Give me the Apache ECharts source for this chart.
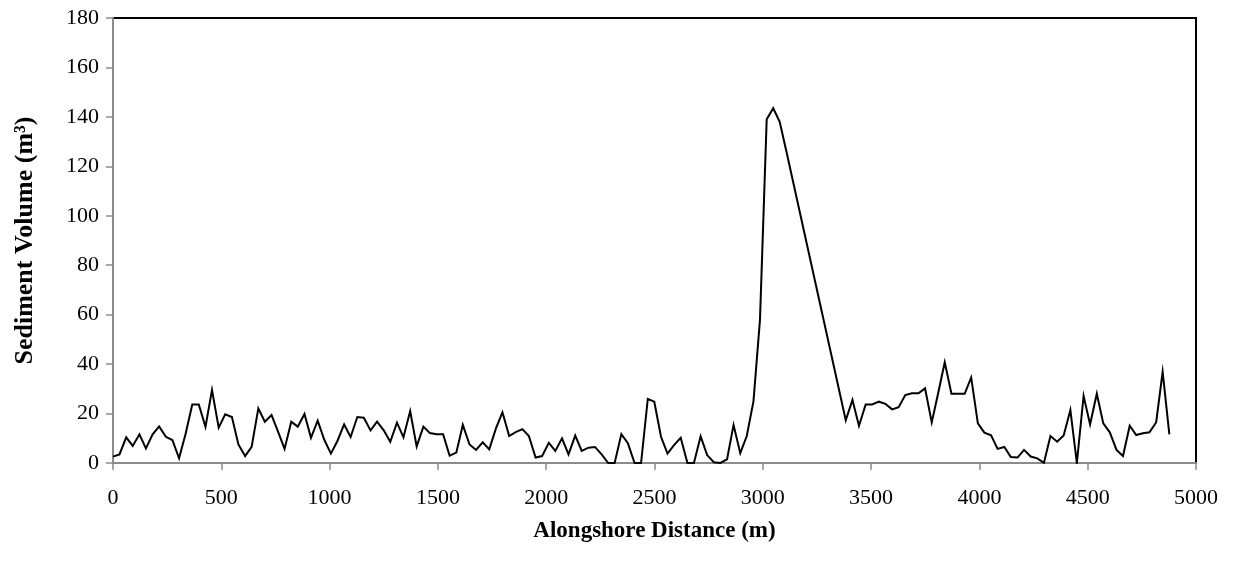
<!DOCTYPE html>
<html>
<head>
<meta charset="utf-8">
<title>Sediment Volume</title>
<script src="https://cdn.jsdelivr.net/npm/echarts@6/dist/echarts.min.js"></script>
<style>
    html, body { margin: 0; padding: 0; background: #fff; }
    #sedchart { width: 1236px; height: 561px; }
</style>
</head>
<body>
<div id="sedchart"></div>
<script>
// alongshore distance of each transect (m)
var distList = [
    0, 30, 61, 91, 122, 152, 183, 213, 244, 274, 305, 335, 366, 396, 427, 457, 488, 518, 549, 579,
    610, 640, 671, 701, 732, 762, 792, 823, 853, 884, 914, 945, 975, 1006, 1036, 1067, 1097, 1128, 1158, 1189,
    1219, 1250, 1280, 1311, 1341, 1372, 1402, 1433, 1463, 1494, 1524, 1554, 1585, 1615, 1646, 1676, 1707, 1737, 1768, 1798,
    1829, 1859, 1890, 1920, 1951, 1981, 2012, 2042, 2073, 2103, 2134, 2164, 2195, 2225, 2256, 2286, 2316, 2347, 2377, 2408,
    2438, 2469, 2499, 2530, 2560, 2591, 2621, 2652, 2682, 2713, 2743, 2774, 2804, 2835, 2865, 2896, 2926, 2957, 2987, 3018,
    3048, 3078, 3109,
    3383, 3414, 3444, 3475, 3505, 3536, 3566, 3597, 3627, 3658, 3688, 3719, 3749, 3780, 3810, 3840, 3871, 3901, 3932,
    3962, 3993, 4023, 4054, 4084, 4115, 4145, 4176, 4206, 4237, 4267, 4298, 4328, 4359, 4389, 4420, 4450, 4481, 4511, 4542,
    4572, 4602, 4633, 4663, 4694, 4724, 4755, 4785, 4816, 4846, 4877
];
// sediment volume (m3)
var volumeList = [
    2.6, 3.5, 10.4, 6.9, 11.6, 5.9, 11.6, 14.8, 10.6, 9.3, 1.9, 11.7, 23.7, 23.7, 14.6, 29.5, 14.3, 19.7, 18.6, 7.5,
    2.8, 6.5, 22.1, 16.7, 19.4, 12.7, 5.7, 16.7, 14.7, 19.8, 10.2, 17.1, 9.5, 3.8, 8.9, 15.6, 10.5, 18.6, 18.3, 13.2,
    16.7, 13.2, 8.6, 16.3, 10.4, 21.0, 6.7, 14.7, 12.1, 11.6, 11.6, 3.0, 4.2, 15.4, 7.5, 5.3, 8.4, 5.5, 14.0, 20.5,
    10.9, 12.5, 13.7, 10.9, 2.2, 2.8, 8.2, 4.9, 10.0, 3.5, 11.1, 4.9, 6.2, 6.5, 3.5, 0, 0, 11.7, 8.0, 0,
    0, 25.9, 24.8, 10.6, 3.8, 7.3, 10.2, 0, 0, 10.8, 3.2, 0.3, 0, 1.5, 15.4, 4.0, 10.9, 25.0, 58.0, 139.0,
    143.5, 138.0, 126.0,
    17.3, 25.5, 15.0, 23.7, 23.7, 24.8, 23.9, 21.7, 22.6, 27.5, 28.2, 28.2, 30.2, 16.4, 28.4, 40.7, 28.0, 28.0, 28.0,
    34.6, 16.0, 12.3, 11.2, 5.7, 6.5, 2.4, 2.2, 5.3, 2.6, 1.9, 0.1, 10.9, 8.6, 11.1, 21.4, 0, 27.1, 15.6, 28.0,
    16.0, 12.4, 5.3, 2.8, 15.1, 11.3, 12.0, 12.4, 16.4, 36.9, 11.6
];

var fontName = '"Liberation Serif", "Times New Roman", serif';
var axisGray = '#8c8c8c';

var seriesData = [];
for (var i = 0; i < distList.length; i++) {
    seriesData.push([distList[i], volumeList[i]]);
}

// plain numbers, no thousands separator
function plainLabel(value) {
    return String(value);
}

var myChart = echarts.init(document.getElementById('sedchart'));
var option = {
    animation: false,
    backgroundColor: '#fff',
    grid: {
        show: true,
        left: 113,
        right: 40,
        top: 18,
        bottom: 98,
        borderColor: '#000',
        borderWidth: 2,
        backgroundColor: 'transparent'
    },
    xAxis: {
        type: 'value',
        min: 0,
        max: 5000,
        interval: 500,
        name: 'Alongshore Distance (m)',
        nameLocation: 'middle',
        nameGap: 57,
        nameTextStyle: {
            color: '#000',
            fontFamily: fontName,
            fontSize: 23,
            fontWeight: 'bold'
        },
        axisLine: { show: true, lineStyle: { color: axisGray, width: 2 } },
        axisTick: { show: true, inside: false, length: 7, lineStyle: { color: axisGray, width: 1.5 } },
        axisLabel: { color: '#000', fontFamily: fontName, fontSize: 22, margin: 24, formatter: plainLabel },
        splitLine: { show: false }
    },
    yAxis: {
        type: 'value',
        min: 0,
        max: 180,
        interval: 20,
        name: 'Sediment Volume (m³)',
        nameLocation: 'middle',
        nameGap: 75,
        nameRotate: 90,
        nameTextStyle: {
            color: '#000',
            fontFamily: fontName,
            fontSize: 26,
            fontWeight: 'bold'
        },
        axisLine: { show: true, lineStyle: { color: axisGray, width: 2 } },
        axisTick: { show: true, inside: false, length: 7, lineStyle: { color: axisGray, width: 1.5 } },
        axisLabel: { color: '#000', fontFamily: fontName, fontSize: 22, margin: 14, formatter: plainLabel },
        splitLine: { show: false }
    },
    series: [
        {
            name: 'Sediment Volume',
            type: 'line',
            data: seriesData,
            showSymbol: false,
            symbol: 'none',
            lineStyle: { color: '#000', width: 2, join: 'miter' },
            z: 3
        }
    ]
};
myChart.setOption(option);
</script>
</body>
</html>
